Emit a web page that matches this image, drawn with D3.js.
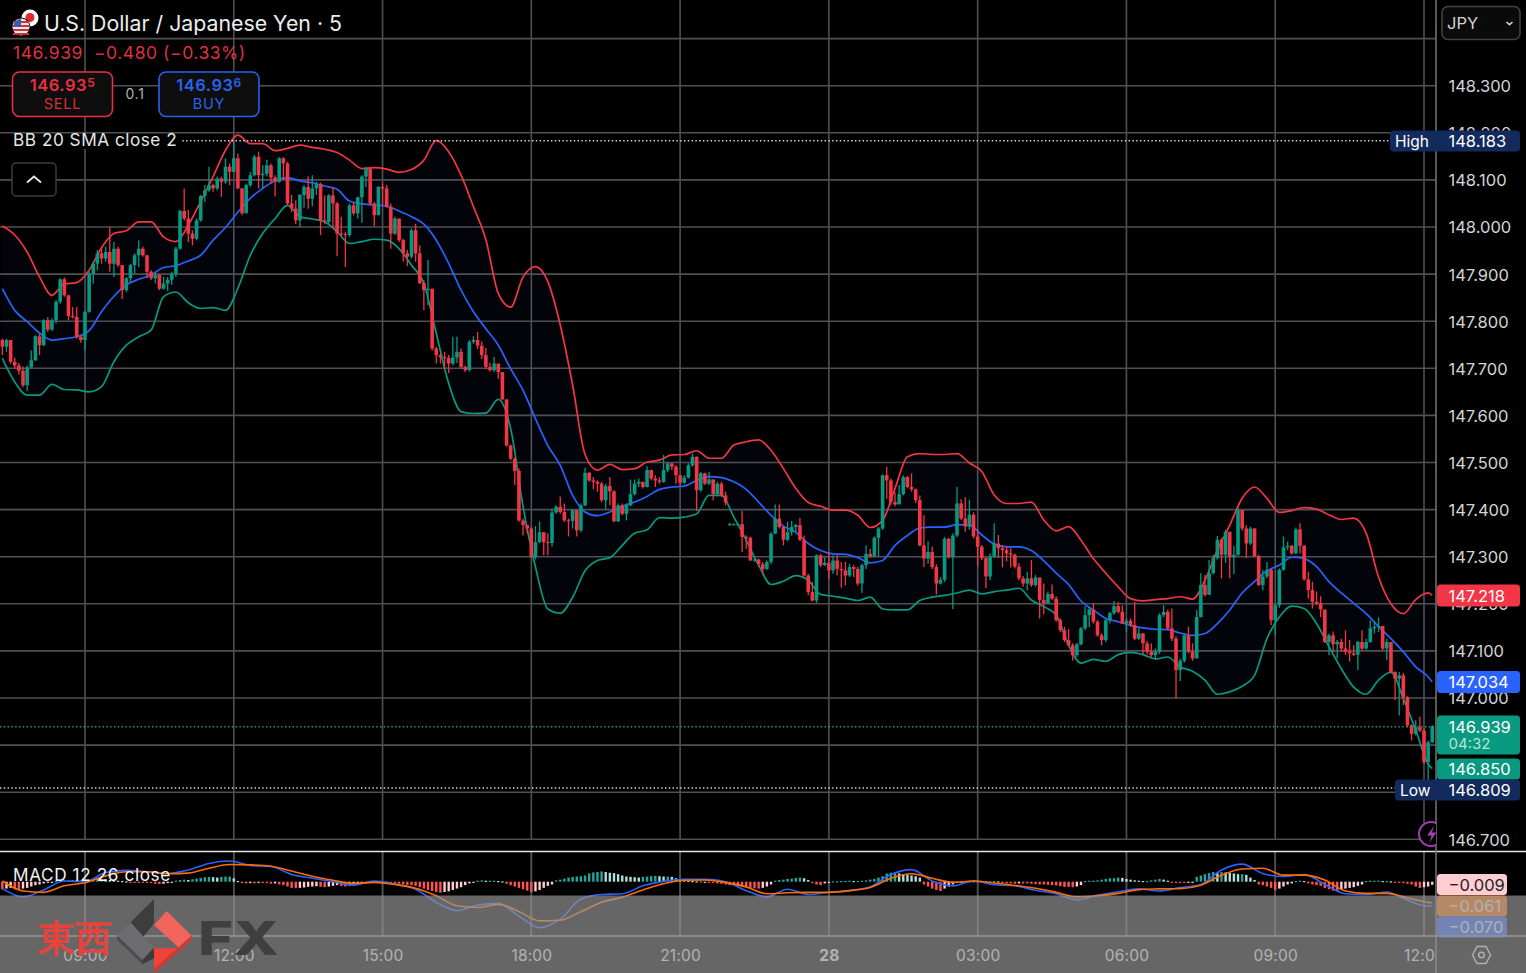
<!DOCTYPE html>
<html><head><meta charset="utf-8">
<style>html,body{margin:0;padding:0;background:#000;overflow:hidden}svg{display:block}text{font-family:Inter,"Noto Sans",sans-serif}</style>
<script src="https://cdn.jsdelivr.net/npm/d3@7"></script></head><body><svg id="c" width="1526" height="973"></svg>
<script>
// candle index 0 = 09:00, one candle = 5 minutes; first candle is index -20
const firstIndex=-20;
const firstOpen=147.760;
const closes=[147.746,147.760,147.714,147.706,147.695,147.664,147.702,147.717,147.768,147.749,
147.802,147.782,147.802,147.841,147.889,147.855,147.811,147.809,147.767,147.760,
147.820,147.901,147.922,147.944,147.933,147.947,147.922,147.954,147.919,147.866,
147.891,147.919,147.940,147.954,147.940,147.905,147.891,147.898,147.869,147.880,
147.888,147.901,147.954,148.034,148.018,147.986,147.975,148.014,148.066,148.078,
148.089,148.082,148.103,148.096,148.128,148.117,148.146,148.082,148.029,148.089,
148.110,148.149,148.110,148.113,148.131,148.105,148.096,148.146,148.135,148.050,
148.039,148.014,148.068,148.085,148.060,148.082,148.091,148.014,148.011,148.067,
148.050,147.986,147.985,147.983,148.046,148.029,148.063,148.107,148.124,148.050,
148.025,148.085,148.082,148.043,147.986,148.018,147.972,147.944,147.937,147.993,
147.944,147.881,147.866,147.869,147.742,147.728,147.724,147.722,147.710,147.723,
147.735,147.703,147.696,147.756,147.760,147.748,147.728,147.703,147.696,147.710,
147.692,147.634,147.536,147.508,147.482,147.377,147.367,147.360,147.299,147.331,
147.352,147.331,147.329,147.394,147.406,147.395,147.377,147.376,147.399,147.356,
147.409,147.478,147.462,147.459,147.455,147.420,147.450,147.439,147.375,147.409,
147.391,147.409,147.433,147.455,147.459,147.448,147.484,147.466,147.462,147.459,
147.484,147.498,147.491,147.473,147.457,147.468,147.494,147.512,147.441,147.477,
147.455,147.464,147.433,147.455,147.430,147.415,147.369,147.369,147.369,147.342,
147.340,147.292,147.294,147.284,147.274,147.289,147.349,147.381,147.363,147.336,
147.352,147.363,147.367,147.336,147.260,147.225,147.207,147.303,147.282,147.287,
147.271,147.292,147.274,147.271,147.260,147.278,147.274,147.243,147.282,147.306,
147.301,147.340,147.360,147.473,147.462,147.416,147.411,147.433,147.469,147.448,
147.443,147.420,147.324,147.296,147.310,147.278,147.243,147.251,147.338,147.299,
147.345,147.413,147.381,147.364,147.389,147.343,147.321,147.297,147.258,147.300,
147.328,147.318,147.314,147.307,147.304,147.279,147.254,147.243,147.254,147.240,
147.256,147.208,147.201,147.221,147.211,147.165,147.144,147.123,147.112,147.091,
147.114,147.148,147.176,147.188,147.162,147.133,147.123,147.165,147.180,147.195,
147.183,147.158,147.164,147.155,147.126,147.137,147.116,147.098,147.091,147.098,
147.176,147.183,147.148,147.126,147.059,147.079,147.133,147.098,147.084,147.172,
147.240,147.219,147.265,147.297,147.336,147.304,147.353,147.299,147.304,147.399,
147.360,147.328,147.360,147.301,147.240,147.258,147.272,147.165,147.197,147.272,
147.320,147.323,147.307,147.358,147.323,147.252,147.229,147.204,147.201,147.188,
147.119,147.133,147.114,147.119,147.105,147.098,147.095,147.092,147.119,147.105,
147.119,147.148,147.151,147.153,147.105,147.119,147.055,147.041,147.048,147.002,
146.942,146.924,146.938,146.931,146.864,146.906,146.939];
const highs=[147.763,147.763,147.760,147.723,147.711,147.704,147.706,147.738,147.770,147.774,
147.804,147.809,147.806,147.845,147.891,147.893,147.855,147.830,147.830,147.770,
147.822,147.905,147.926,147.951,147.954,147.958,148.000,147.968,147.958,147.919,
147.894,147.922,147.944,147.972,147.958,147.940,147.908,147.905,147.900,147.894,
147.894,147.905,147.958,148.037,148.082,148.036,147.993,148.018,148.068,148.089,
148.128,148.092,148.107,148.107,148.146,148.135,148.183,148.156,148.082,148.092,
148.117,148.153,148.160,148.131,148.143,148.135,148.110,148.148,148.148,148.138,
148.068,148.057,148.070,148.089,148.108,148.110,148.096,148.094,148.067,148.070,
148.085,148.053,148.022,147.990,148.050,148.053,148.064,148.110,148.128,148.122,
148.053,148.087,148.092,148.089,148.050,148.022,148.018,147.975,147.951,147.997,
148.007,147.961,147.887,147.930,147.869,147.746,147.731,147.735,147.728,147.767,
147.767,147.742,147.706,147.760,147.768,147.777,147.757,147.743,147.712,147.724,
147.708,147.692,147.634,147.538,147.511,147.487,147.381,147.367,147.363,147.365,
147.375,147.352,147.350,147.402,147.409,147.428,147.413,147.381,147.400,147.399,
147.413,147.489,147.480,147.469,147.462,147.459,147.455,147.469,147.441,147.413,
147.413,147.413,147.464,147.464,147.466,147.459,147.492,147.485,147.473,147.469,
147.516,147.501,147.499,147.494,147.473,147.473,147.498,147.519,147.513,147.480,
147.478,147.480,147.464,147.459,147.459,147.438,147.372,147.371,147.371,147.397,
147.345,147.343,147.298,147.296,147.289,147.292,147.352,147.411,147.411,147.365,
147.374,147.376,147.370,147.382,147.345,147.264,147.246,147.305,147.306,147.299,
147.310,147.303,147.303,147.289,147.289,147.285,147.282,147.278,147.285,147.324,
147.317,147.343,147.363,147.475,147.491,147.466,147.438,147.452,147.473,147.471,
147.477,147.445,147.430,147.388,147.333,147.321,147.284,147.257,147.342,147.340,
147.349,147.448,147.422,147.426,147.421,147.394,147.358,147.325,147.299,147.307,
147.371,147.346,147.325,147.323,147.318,147.307,147.286,147.259,147.268,147.293,
147.261,147.250,147.243,147.226,147.241,147.216,147.169,147.151,147.146,147.116,
147.117,147.151,147.195,147.194,147.202,147.165,147.137,147.169,147.183,147.206,
147.204,147.197,147.169,147.169,147.204,147.151,147.138,147.121,147.116,147.105,
147.180,147.197,147.188,147.190,147.131,147.084,147.137,147.151,147.116,147.187,
147.265,147.261,147.293,147.304,147.344,147.339,147.357,147.325,147.323,147.405,
147.385,147.367,147.364,147.360,147.304,147.272,147.289,147.275,147.201,147.275,
147.343,147.332,147.325,147.362,147.371,147.325,147.268,147.247,147.226,147.216,
147.187,147.137,147.141,147.123,147.126,147.144,147.123,147.112,147.121,147.144,
147.126,147.165,147.162,147.171,147.151,147.126,147.117,147.057,147.055,147.053,
147.004,146.944,146.953,146.960,146.935,146.910,146.942];
const lows=[147.728,147.735,147.710,147.699,147.687,147.660,147.652,147.699,147.716,147.728,
147.747,147.777,147.779,147.795,147.837,147.852,147.802,147.806,147.763,147.754,
147.738,147.818,147.880,147.908,147.922,147.926,147.905,147.894,147.915,147.847,
147.862,147.883,147.901,147.915,147.937,147.891,147.887,147.880,147.866,147.867,
147.864,147.877,147.894,147.952,148.014,147.968,147.961,147.972,148.011,148.053,
148.075,148.075,148.078,148.064,148.092,148.089,148.117,148.080,148.025,148.030,
148.085,148.107,148.082,148.082,148.107,148.092,148.065,148.094,148.100,148.046,
148.032,148.006,148.000,148.041,148.039,148.044,148.068,147.983,148.006,148.007,
147.997,147.938,147.979,147.915,147.979,148.025,148.018,148.009,148.085,148.046,
148.002,148.025,148.046,148.041,147.954,147.983,147.968,147.926,147.917,147.933,
147.926,147.879,147.823,147.834,147.738,147.710,147.710,147.699,147.690,147.706,
147.711,147.699,147.692,147.694,147.752,147.741,147.720,147.698,147.693,147.692,
147.678,147.632,147.534,147.505,147.452,147.374,147.345,147.349,147.298,147.294,
147.329,147.303,147.303,147.321,147.391,147.391,147.374,147.343,147.360,147.343,
147.352,147.407,147.459,147.443,147.438,147.416,147.400,147.409,147.373,147.374,
147.388,147.377,147.407,147.430,147.448,147.445,147.447,147.462,147.448,147.455,
147.457,147.480,147.484,147.455,147.452,147.455,147.466,147.491,147.397,147.438,
147.452,147.452,147.420,147.428,147.427,147.409,147.365,147.367,147.367,147.310,
147.317,147.291,147.289,147.278,147.262,147.272,147.284,147.348,147.360,147.324,
147.333,147.345,147.350,147.333,147.258,147.218,147.205,147.202,147.278,147.280,
147.253,147.264,147.260,147.234,147.239,147.257,147.257,147.239,147.223,147.274,
147.298,147.299,147.301,147.357,147.423,147.409,147.407,147.413,147.430,147.445,
147.438,147.414,147.322,147.278,147.285,147.274,147.220,147.241,147.246,147.296,
147.189,147.342,147.378,147.353,147.357,147.339,147.279,147.293,147.233,147.250,
147.297,147.297,147.277,147.290,147.277,147.275,147.250,147.236,147.229,147.236,
147.236,147.169,147.178,147.199,147.208,147.162,147.140,147.119,147.109,147.079,
147.087,147.112,147.144,147.151,147.158,147.130,147.112,147.119,147.158,147.176,
147.180,147.157,147.140,147.151,147.123,147.123,147.093,147.093,147.087,147.082,
147.093,147.172,147.144,147.121,146.999,147.036,147.075,147.095,147.079,147.084,
147.171,147.215,147.221,147.263,147.294,147.254,147.287,147.254,147.263,147.302,
147.355,147.297,147.325,147.299,147.238,147.229,147.254,147.155,147.133,147.192,
147.270,147.314,147.304,147.306,147.307,147.249,147.211,147.190,147.197,147.172,
147.117,147.091,147.098,147.084,147.098,147.091,147.077,147.089,147.059,147.102,
147.103,147.117,147.137,147.140,147.102,147.080,147.052,146.995,146.963,146.985,
146.938,146.910,146.921,146.928,146.860,146.809,146.904];
// the three flat candles after the 21:55 gap open away from the previous close
const openGaps=[[156,147.369]];

// Bollinger lines read every third candle, plus the last candle
const bandIndex=d3.range(-20,326,3).concat([326]);
const bbUpper=[148.002,147.983,147.947,147.894,147.855,147.879,147.882,147.908,147.956,147.986,147.992,148.011,148.011,147.979,147.969,148.004,148.054,148.107,148.163,148.195,148.177,148.177,148.162,148.167,148.174,148.169,148.165,148.158,148.142,148.124,148.126,148.123,148.116,148.122,148.142,148.184,148.160,148.110,148.043,
147.973,147.859,147.830,147.894,147.916,147.884,147.792,147.664,147.517,147.484,147.496,147.485,147.487,147.501,147.505,147.516,147.517,147.525,147.509,147.509,147.537,147.544,147.548,147.526,147.487,147.445,147.415,147.407,147.399,147.399,147.388,147.362,147.377,147.445,147.512,147.519,147.517,147.517,147.519,
147.499,147.481,147.431,147.413,147.413,147.416,147.378,147.355,147.364,147.335,147.296,147.265,147.236,147.211,147.206,147.209,147.211,147.215,147.210,147.250,147.314,147.367,147.424,147.448,147.424,147.394,147.398,147.404,147.401,147.389,147.379,147.382,147.350,147.257,147.200,147.179,147.209,147.223,147.218];
const bbBasis=[147.869,147.823,147.799,147.775,147.760,147.763,147.767,147.780,147.820,147.853,147.877,147.889,147.898,147.914,147.918,147.928,147.940,147.972,147.999,148.032,148.061,148.082,148.098,148.105,148.098,148.094,148.087,148.080,148.055,148.049,148.047,148.044,148.034,148.022,148.006,147.972,147.923,147.866,147.820,
147.784,147.749,147.699,147.653,147.593,147.536,147.494,147.430,147.395,147.387,147.395,147.407,147.416,147.428,147.443,147.448,147.450,147.462,147.470,147.468,147.459,147.443,147.416,147.388,147.365,147.352,147.328,147.313,147.306,147.305,147.298,147.287,147.292,147.324,147.345,147.361,147.363,147.363,147.368,
147.367,147.346,147.327,147.321,147.321,147.313,147.291,147.265,147.241,147.206,147.187,147.169,147.162,147.154,147.149,147.146,147.145,147.138,147.133,147.137,147.158,147.187,147.223,147.247,147.270,147.282,147.299,147.296,147.279,147.247,147.223,147.201,147.179,147.152,147.126,147.098,147.066,147.045,147.034];
const bbLower=[147.721,147.671,147.643,147.643,147.666,147.655,147.654,147.650,147.661,147.714,147.749,147.767,147.781,147.852,147.862,147.839,147.827,147.829,147.823,147.870,147.940,147.986,148.018,148.046,148.022,148.017,148.011,147.990,147.965,147.969,147.974,147.972,147.954,147.919,147.880,147.774,147.668,147.608,147.604,
147.605,147.634,147.572,147.406,147.278,147.189,147.180,147.214,147.270,147.292,147.298,147.324,147.350,147.357,147.383,147.382,147.384,147.391,147.430,147.430,147.384,147.335,147.282,147.241,147.248,147.260,147.250,147.220,147.216,147.212,147.207,147.214,147.189,147.187,147.187,147.207,147.214,147.218,147.223,
147.229,147.221,147.226,147.229,147.233,147.208,147.194,147.176,147.112,147.074,147.082,147.078,147.092,147.097,147.092,147.083,147.087,147.066,147.057,147.038,147.008,147.013,147.025,147.048,147.126,147.172,147.195,147.190,147.158,147.109,147.062,147.023,147.008,147.038,147.055,146.999,146.932,146.860,146.850];

// MACD lines read every fifth candle, plus the last candle (thousandths)
const macdIndex=d3.range(-20,326,5).concat([326]);
const macdLine=[-20,-44,-24,2,0,27,33,29,24,34,53,60,47,44,21,10,0,-10,2,-7,-22,-60,-84,-68,-63,
-100,-134,-109,-50,-37,-35,-12,1,7,7,0,-26,-44,-22,-37,-31,-26,-15,21,35,2,-12,2,-9,
-12,-25,-35,-53,-39,-29,-21,-27,-17,-8,34,51,24,15,21,-8,-35,-37,-30,-54,-71,-70];
const signalLine=[2,-27,-31,-12,-3,17,29,29,23,25,39,50,49,45,31,16,4,-5,-2,-8,-19,-41,-70,-75,-66,
-87,-114,-112,-87,-60,-45,-24,-6,4,5,-2,-15,-35,-32,-31,-31,-26,-17,10,23,10,-2,2,-4,
-11,-19,-31,-44,-41,-34,-23,-21,-20,-10,19,37,39,19,19,5,-27,-34,-34,-47,-60,-61];
// MACD histogram, one value per candle (thousandths)
const macdHist=[-22,-20,-18,-22,-22,-20,-18,-14,-10,-8,
-5,-3,-2,2,2,3,4,5,4,3,
3,5,7,8,8,7,5,4,3,2,
1,-1,-1,-2,-2,-3,-4,-6,-7,-6,
-4,-2,3,5,6,5,7,9,11,13,
14,13,12,14,15,15,10,2,-4,-5,
-4,-5,-3,-4,-4,-6,-5,-8,-10,-14,
-18,-19,-18,-17,-15,-14,-13,-15,-16,-14,
-12,-10,-13,-14,-11,-8,-6,-4,-5,-3,
-2,-1,-1,-2,-3,-5,-6,-8,-9,-10,
-12,-16,-20,-24,-27,-30,-32,-30,-28,-24,
-20,-16,-10,-5,-3,3,4,3,3,3,
2,1,-6,-10,-14,-18,-22,-26,-30,-28,
-24,-18,-12,-8,4,6,9,12,14,15,
16,18,24,27,28,30,28,26,25,22,
18,15,14,13,12,14,15,16,17,16,
15,15,14,10,8,6,3,2,1,1,
0,-1,-3,-5,-6,-8,-10,-11,-13,-15,
-16,-18,-19,-20,-18,-14,-8,3,5,6,
8,9,11,12,10,5,-3,-8,-10,-5,
-3,1,1,2,2,3,2,2,3,4,
6,8,12,16,24,26,26,24,22,20,
18,16,12,-8,-14,-20,-24,-27,-20,-14,
-8,-3,-1,1,1,1,1,1,1,1,
2,1,-4,-5,-5,-6,-5,-5,-5,-6,
-7,-8,-8,-9,-10,-11,-13,-15,-15,-16,
-14,-10,2,3,3,4,6,8,10,10,
12,11,8,6,4,3,2,2,4,6,
8,6,3,-2,-2,-3,-3,-2,-1,14,
18,22,25,28,26,28,27,26,24,22,
22,20,12,5,-8,-10,-14,-18,-24,-20,
-14,-8,-5,2,3,2,-5,-8,-10,-12,
-18,-22,-26,-28,-24,-20,-18,-16,-12,-8,
2,3,3,3,2,2,1,-2,-3,-4,
-6,-8,-14,-18,-16,-14,-9];

const priceTicks=[148.3,148.2,148.1,148.0,147.9,147.8,147.7,147.6,147.5,147.4,147.3,147.2,147.1,147.0,146.9,146.8,146.7];
const gridPrices=[148.4].concat(priceTicks);
const timeIndex=[0,36,72,108,144,180,216,252,288,324];
const timeLabels=["09:00","12:00","15:00","18:00","21:00","28","03:00","06:00","09:00","12:00"];

const RED="#f23645",GREEN="#089981",BLUE="#2962ff",ORANGE="#ff6d00";
const svg=d3.select("#c");
svg.append("rect").attr("width",1526).attr("height",973).attr("fill","#000");
const defs=svg.append("defs");
defs.append("clipPath").attr("id","plot").append("rect").attr("x",0).attr("y",0).attr("width",1436).attr("height",973);
const x=d3.scaleLinear().domain([0,324]).range([85,1424]);
const y=d3.scaleLinear().domain([146.7,148.4]).range([839.3,38.6]);
const ym=d3.scaleLinear().domain([-0.1,0.1]).range([916.1,847.3]);
const plot=svg.append("g").attr("clip-path","url(#plot)");
const GRID="#505050";
plot.append("g").selectAll("line").data(gridPrices).join("line")
 .attr("x1",0).attr("x2",1436).attr("y1",d=>y(d)).attr("y2",d=>y(d)).attr("stroke",GRID).attr("stroke-width",1.6);
plot.append("g").selectAll("line").data(timeIndex).join("line")
 .attr("x1",d=>x(d)).attr("x2",d=>x(d)).attr("y1",0).attr("y2",936).attr("stroke",GRID).attr("stroke-width",1.6);

// Bollinger
const pick=(arr)=>bandIndex.map((k,j)=>({k,v:arr[j]}));
plot.append("path").datum(bandIndex.map((k,j)=>({k,u:bbUpper[j],l:bbLower[j]})))
 .attr("d",d3.area().x(d=>x(d.k)).y0(d=>y(d.l)).y1(d=>y(d.u)).curve(d3.curveMonotoneX))
 .attr("fill","#2962ff").attr("fill-opacity",0.04);
const bl=d3.line().x(d=>x(d.k)).y(d=>y(d.v)).curve(d3.curveMonotoneX);
[[bbLower,GREEN],[bbBasis,BLUE],[bbUpper,RED]].forEach(([a,c])=>{
 plot.append("path").datum(pick(a)).attr("d",bl).attr("fill","none").attr("stroke",c).attr("stroke-width",1.7);
});

// Candles
const opens=closes.map((c,j)=>j?closes[j-1]:firstOpen);
openGaps.forEach(([k,v])=>{opens[k-firstIndex]=v;});
const candles=closes.map((c,j)=>({k:j+firstIndex,o:opens[j],h:highs[j],l:lows[j],c}));
const col=d=>d.c>=d.o?GREEN:RED;
const cg=plot.append("g");
cg.selectAll("line").data(candles).join("line")
 .attr("x1",d=>x(d.k)).attr("x2",d=>x(d.k)).attr("y1",d=>y(d.h)).attr("y2",d=>y(d.l)).attr("stroke",col).attr("stroke-width",1.3);
cg.selectAll("rect").data(candles).join("rect")
 .attr("x",d=>x(d.k)-1.8).attr("width",3.6)
 .attr("y",d=>y(Math.max(d.o,d.c))).attr("height",d=>Math.max(1,Math.abs(y(d.o)-y(d.c)))).attr("fill",col);

// High / Low / last dotted lines
[[148.183,"#dcdcdc"],[146.809,"#dcdcdc"],[146.939,"#0aa58b"]].forEach(([p,c])=>{
 plot.append("line").attr("x1",0).attr("x2",1436).attr("y1",y(p)).attr("y2",y(p)).attr("stroke",c).attr("stroke-width",1.4).attr("stroke-dasharray","1.4 2.4");
});

// MACD pane
svg.append("rect").attr("x",0).attr("y",840).attr("width",1436).attr("height",11).attr("fill","#000");
plot.append("g").selectAll("line").data(timeIndex).join("line")
 .attr("x1",d=>x(d)).attr("x2",d=>x(d)).attr("y1",840).attr("y2",936).attr("stroke",GRID).attr("stroke-width",1.6);
const histCol=(v,j)=>{const p=j?macdHist[j-1]:v;return v>=0?(v>=p?"#26a69a":"#b2dfdb"):(v<=p?"#ff5252":"#ffcdd2");};
plot.append("g").selectAll("rect").data(macdHist).join("rect")
 .attr("x",(d,j)=>x(j+firstIndex)-1.2).attr("width",2.4)
 .attr("y",d=>Math.min(ym(0),ym(d/1000))).attr("height",d=>Math.max(1.2,Math.abs(ym(d/1000)-ym(0))))
 .attr("fill",histCol);
const ml=d3.line().x(d=>x(d.k)).y(d=>ym(d.v/1000)).curve(d3.curveMonotoneX);
[[macdLine,BLUE],[signalLine,ORANGE]].forEach(([a,c])=>{
 plot.append("path").datum(macdIndex.map((k,j)=>({k,v:a[j]}))).attr("d",ml).attr("fill","none").attr("stroke",c).attr("stroke-width",1.6);
});

// Price axis
const TICK="#d4d4d4";
const pa=d3.axisRight(y).tickValues(priceTicks).tickSize(0).tickPadding(0).tickFormat(d3.format(".3f"));
const pag=svg.append("g").attr("transform","translate(1448.5,0)").call(pa);
pag.select(".domain").remove();
pag.selectAll("text").attr("fill",TICK).attr("font-size",16.5).attr("font-family","Inter").attr("dy","0.36em").attr("x",0);
// Time axis
const ta=d3.axisBottom(x).tickValues(timeIndex).tickSize(0).tickFormat((d,j)=>timeLabels[j]);
const tag=svg.append("g").attr("clip-path","url(#plot)").append("g").attr("transform","translate(0,947)").call(ta);
tag.select(".domain").remove();
tag.selectAll("text").attr("fill","#f0f0f0").attr("font-size",15.5).attr("font-family","Inter").attr("dy","0.9em").attr("y",0)
 .attr("letter-spacing",0.2).attr("font-weight",(d,j)=>timeLabels[j]==="28"?700:400);

svg.append("line").attr("x1",0).attr("x2",1526).attr("y1",851.5).attr("y2",851.5).attr("stroke","#e4e4e4").attr("stroke-width",1.6);
svg.append("line").attr("x1",1436).attr("x2",1436).attr("y1",0).attr("y2",973).attr("stroke","#777").attr("stroke-width",1.5);

// Price tags
function tag2(x0,x1,cy,h,fill,txt,tc,tx){
 svg.append("rect").attr("x",x0).attr("y",cy-h/2).attr("width",x1-x0).attr("height",h).attr("rx",3.5).attr("fill",fill);
 svg.append("text").attr("x",tx).attr("y",cy+6).attr("fill",tc).attr("font-size",16.5).text(txt);
}
tag2(1437,1520,595.5,22,RED,"147.218","#fff",1448.5);
tag2(1437,1520,682,22,BLUE,"147.034","#fff",1448.5);
svg.append("rect").attr("x",1437).attr("y",715.5).attr("width",83).attr("height",39).attr("rx",3.5).attr("fill",GREEN);
svg.append("text").attr("x",1448.5).attr("y",732.5).attr("fill","#fff").attr("font-size",16.5).text("146.939");
svg.append("text").attr("x",1448.5).attr("y",749).attr("fill","#b9e3da").attr("font-size",15).text("04:32");
tag2(1437,1520,769,21,GREEN,"146.850","#fff",1448.5);
tag2(1390,1520,141,21,"#132a5c","148.183","#fff",1448.5);
svg.append("text").attr("x",1395).attr("y",146.5).attr("fill","#fff").attr("font-size",15.5).text("High");
tag2(1395,1520,790,21,"#132a5c","146.809","#fff",1448.5);
svg.append("text").attr("x",1400).attr("y",795.5).attr("fill","#fff").attr("font-size",15.5).text("Low");

// JPY box
svg.append("rect").attr("x",1442).attr("y",6.5).attr("width",78).attr("height",33).attr("rx",6).attr("fill","#0a0a0a").attr("stroke","#444").attr("stroke-width",1.5);
svg.append("text").attr("x",1447).attr("y",29).attr("fill","#d4d4d4").attr("font-size",16.5).text("JPY");
svg.append("path").attr("d","M1506.5 22l3 2.6 3-2.6").attr("fill","none").attr("stroke","#d4d4d4").attr("stroke-width",1.6);

// Lightning icon
const bolt=svg.append("g").attr("clip-path","url(#plot)");
bolt.append("circle").attr("cx",1431).attr("cy",834).attr("r",12).attr("fill","#000").attr("stroke","#9c3fb5").attr("stroke-width",2);
bolt.append("path").attr("d","M1434 826l-7 9.5h4.5l-2 7 7-10h-4.5z").attr("fill","#9c3fb5");

// Header
svg.append("text").attr("x",44).attr("y",30.5).attr("fill","#ececec").attr("font-size",21.3).text("U.S. Dollar / Japanese Yen · 5");
const flagG=svg.append("g");
flagG.append("circle").attr("cx",30).attr("cy",18).attr("r",8.5).attr("fill","#fff");
flagG.append("circle").attr("cx",30).attr("cy",17.5).attr("r",4.5).attr("fill","#e0282e");
flagG.append("circle").attr("cx",21).attr("cy",27).attr("r",9.5).attr("fill","#000");
flagG.append("circle").attr("cx",21).attr("cy",27).attr("r",8.5).attr("fill","#e8e8e8");
[21,25,29,33].forEach(v=>flagG.append("rect").attr("x",13).attr("y",v).attr("width",16).attr("height",2).attr("fill","#d32f3a"));
flagG.append("path").attr("d","M13.5 27a8.5 8.5 0 0 1 7.5-8.5v8.5z").attr("fill","#3a5bab");
svg.append("text").attr("x",13).attr("y",59).attr("fill","#df3040").attr("font-size",17.5).attr("letter-spacing",0.55).attr("xml:space","preserve").text("146.939  −0.480 (−0.33%)");
function btn(x0,stroke,main,sup,label,labelC){
 svg.append("rect").attr("x",x0).attr("y",72).attr("width",100).attr("height",44.5).attr("rx",7).attr("fill","#0e0e0e").attr("stroke",stroke).attr("stroke-width",1.6);
 const t=svg.append("text").attr("x",x0+50).attr("y",90.5).attr("text-anchor","middle").attr("fill",stroke).attr("font-size",16.5).attr("letter-spacing",0.55).attr("font-weight",600);
 t.append("tspan").text(main);
 t.append("tspan").attr("dy",-4).attr("font-size",12).text(sup);
 svg.append("text").attr("x",x0+50).attr("y",109).attr("text-anchor","middle").attr("fill",labelC).attr("font-size",14.5).attr("letter-spacing",0.8).text(label);
}
btn(12.5,"#e9313f","146.93","5","SELL","#d92f3c");
btn(159,"#2a62ee","146.93","6","BUY","#2a62ee");
svg.append("text").attr("x",135).attr("y",99).attr("text-anchor","middle").attr("fill","#b0b0b0").attr("font-size",14).attr("letter-spacing",0.7).text("0.1");
svg.append("rect").attr("x",0).attr("y",135).attr("width",182).attr("height",14).attr("fill","#000");
svg.append("text").attr("x",13).attr("y",146).attr("fill","#e6e6e6").attr("font-size",17.2).attr("letter-spacing",0.52).text("BB 20 SMA close 2");
svg.append("rect").attr("x",12).attr("y",163).attr("width",44).attr("height",33).attr("rx",4).attr("fill","#000").attr("stroke","#3c3c3c").attr("stroke-width",1.5);
svg.append("path").attr("d","M27 182.5l7-6 7 6").attr("fill","none").attr("stroke","#e8e8e8").attr("stroke-width",1.8);
svg.append("text").attr("x",13).attr("y",881).attr("fill","#f2f2f2").attr("font-size",17.2).attr("letter-spacing",0.6).text("MACD 12 26 close");

// MACD tags
tag2(1437,1507,884.5,21,"#ffcdd2","−0.009","#222",1448.5);
tag2(1437,1507,906,21,ORANGE,"−0.061","#efefef",1448.5);
tag2(1437,1507,927,21,BLUE,"−0.070","#efefef",1448.5);

// Time-axis border and settings glyph (under the overlay)
svg.append("line").attr("x1",0).attr("x2",1526).attr("y1",936).attr("y2",936).attr("stroke","#999").attr("stroke-width",1.4);
svg.append("path").attr("d","M1472.5 955l4.5-8.5h9l4.5 8.5-4.5 8.5h-9z").attr("fill","none").attr("stroke","#f0f0f0").attr("stroke-width",1.4);
svg.append("circle").attr("cx",1481.5).attr("cy",955).attr("r",2.8).attr("fill","none").attr("stroke","#f0f0f0").attr("stroke-width",1.4);

// Watermark band
svg.append("rect").attr("x",0).attr("y",895.5).attr("width",1526).attr("height",78).attr("fill","rgb(148,148,148)").attr("fill-opacity",0.69);
const wm=svg.append("g");
wm.append("text").attr("x",38).attr("y",951).attr("fill","#e8423d").attr("font-size",37).attr("font-weight",700).attr("font-family","Noto Sans CJK JP").text("東西");
const P=(pts)=>pts.map(([a,b])=>`${a/3},${845+b/3}`).join(" ");
wm.append("polygon").attr("points",P([[392,232],[462,162],[462,235],[430,275]])).attr("fill","#3d3d3d");
wm.append("polygon").attr("points",P([[352,272],[392,234],[462,308],[427,345]])).attr("fill","#6d6d70");
wm.append("polygon").attr("points",P([[352,272],[427,345],[427,358],[352,285]])).attr("fill","#4c4c4e");
wm.append("polygon").attr("points",P([[427,345],[462,308],[462,340],[427,358]])).attr("fill","#3b3b3d");
wm.append("polygon").attr("points",P([[462,240],[500,198],[575,272],[538,310]])).attr("fill","#f2655c");
wm.append("polygon").attr("points",P([[462,310],[538,310],[575,272],[575,285],[462,384]])).attr("fill","#ef4238");
wm.append("polygon").attr("points",P([[462,384],[462,372],[575,272],[575,285]])).attr("fill","#c93a32");
wm.append("text").attr("x",198).attr("y",955).attr("fill","#3f3f3f").attr("font-size",47).attr("font-weight",800).attr("font-family","Inter").attr("textLength",81).attr("lengthAdjust","spacingAndGlyphs").text("FX");
</script></body></html>
